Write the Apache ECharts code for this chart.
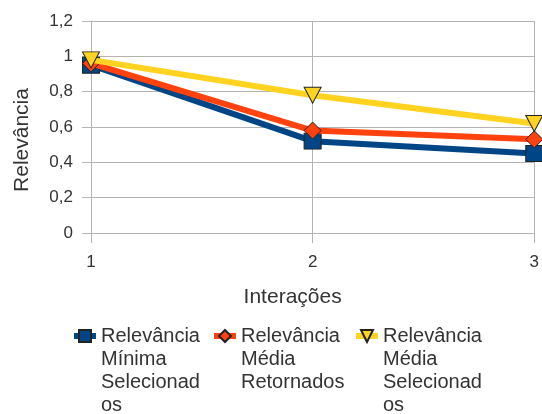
<!DOCTYPE html>
<html>
<head>
<meta charset="utf-8">
<script src="https://cdn.jsdelivr.net/npm/echarts@6/dist/echarts.min.js"></script>
<style>
  html, body { margin: 0; padding: 0; background: #fff; }
  #chart { width: 542px; height: 414px; }
</style>
</head>
<body>
<div id="chart"></div>
<script>
// Iterations on the category axis
const categories = ['1', '2', '3'];

// Series values
const minSelecionados = [0.95, 0.52, 0.45];
const mediaRetornados = [0.96, 0.58, 0.53];
const mediaSelecionados = [0.98, 0.78, 0.62];

// Series names and the wrapped text shown in the legend
const seriesNames = [
  'Relevância Mínima Selecionados',
  'Relevância Média Retornados',
  'Relevância Média Selecionados'
];
const legendLines = [
  ['Relevância', 'Mínima', 'Selecionad', 'os'],
  ['Relevância', 'Média', 'Retornados'],
  ['Relevância', 'Média', 'Selecionad', 'os']
];

// Y axis ticks
const yMin = 0, yMax = 1.2, yStep = 0.2;

const FONT = '"Liberation Sans", Arial, sans-serif';
const GRID = '#b3b3b3';
const TEXT = '#333333';
const LH = 23;
const colors = ['#004586', '#ff420e', '#ffd320'];
const symbols = ['rect', 'diamond', 'triangle'];
const rotations = [0, 0, 180];
const sizes = [[17, 16], [17, 17], [17, 16]];
const dataSets = [minSelecionados, mediaRetornados, mediaSelecionados];

const legendLeft = [71, 211, 353];
const firstLineY = 336;

// Each legend text is vertically centred on its icon, so blank lines are
// put in front of the wrapped text to keep the first line level with the icon.
const legends = seriesNames.map((name, i) => {
  const n = legendLines[i].length;
  const blanks = new Array(n - 1).fill('').join('\n') + '\n';
  return {
    data: [name],
    orient: 'horizontal',
    left: legendLeft[i],
    top: firstLineY - (2 * n - 1) * LH / 2,
    padding: 0,
    itemWidth: 22,
    itemHeight: 15,
    itemGap: 0,
    selectedMode: false,
    lineStyle: { width: 6 },
    formatter: () => blanks + legendLines[i].join('\n'),
    textStyle: {
      fontFamily: FONT,
      fontSize: 20,
      color: TEXT,
      lineHeight: LH
    }
  };
});

const series = seriesNames.map((name, i) => ({
  name: name,
  type: 'line',
  data: dataSets[i],
  symbol: symbols[i],
  symbolSize: sizes[i],
  symbolRotate: rotations[i],
  showAllSymbol: true,
  lineStyle: { color: colors[i], width: 6 },
  itemStyle: { color: colors[i], borderColor: '#222', borderWidth: 1 },
  emphasis: { disabled: true },
  z: 2 + i
}));

const chart = echarts.init(document.getElementById('chart'), null, { renderer: 'canvas' });
chart.setOption({
  animation: false,
  backgroundColor: '#ffffff',
  grid: { left: 91, right: 7, top: 21, bottom: 181, containLabel: false },
  legend: legends,
  xAxis: {
    type: 'category',
    data: categories,
    boundaryGap: false,
    name: 'Interações',
    nameLocation: 'middle',
    nameGap: 54,
    nameTextStyle: { fontFamily: FONT, fontSize: 21, color: TEXT, padding: [0, 40, 0, 0] },
    axisLine: { show: true, lineStyle: { color: GRID, width: 1 } },
    axisTick: { show: true, length: 10, lineStyle: { color: GRID } },
    axisLabel: { fontFamily: FONT, fontSize: 17, color: TEXT, margin: 21 },
    splitLine: { show: true, lineStyle: { color: GRID, width: 1 } }
  },
  yAxis: {
    type: 'value',
    min: yMin,
    max: yMax,
    interval: yStep,
    name: 'Relevância',
    nameLocation: 'middle',
    nameGap: 58,
    nameRotate: 90,
    nameTextStyle: { fontFamily: FONT, fontSize: 21, color: TEXT, padding: [0, 26, 0, 0] },
    axisLine: { show: true, lineStyle: { color: GRID, width: 1 } },
    axisTick: { show: true, length: 9, lineStyle: { color: GRID } },
    axisLabel: {
      fontFamily: FONT, fontSize: 17, color: TEXT, margin: 18,
      formatter: v => String(+v.toFixed(1)).replace('.', ',')
    },
    splitLine: { show: true, lineStyle: { color: GRID, width: 1 } }
  },
  series: series
});
</script>
</body>
</html>
